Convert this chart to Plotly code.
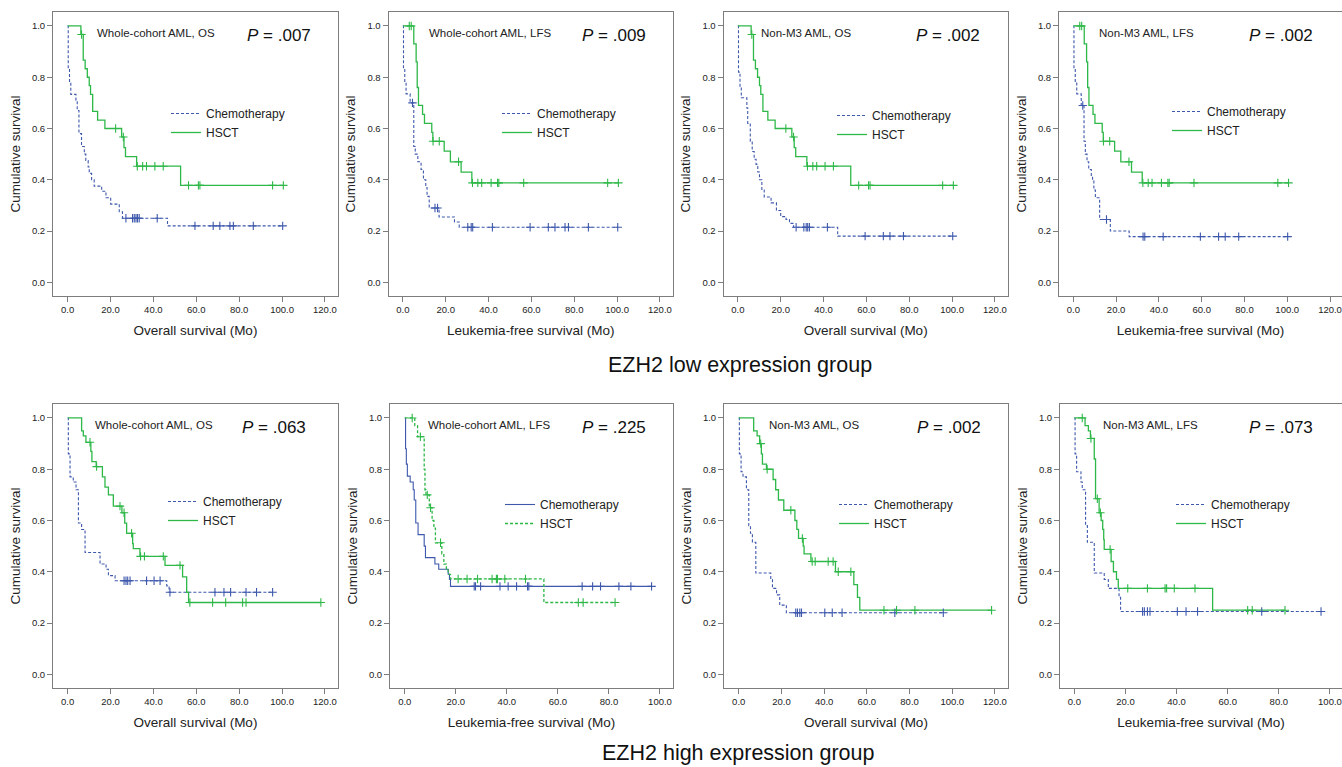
import plotly.graph_objects as go

W, H = 1342, 767
FONT = "Liberation Sans, Arial, sans-serif"
CHEMO_COLOR = "#3E58AC"
HSCT_COLOR = "#2EB848"
FRAME = "#7d7d7d"

# ---------------- text / categories ----------------
series_names = ["Chemotherapy", "HSCT"]
panel_names = ["Whole-cohort AML, OS", "Whole-cohort AML, LFS", "Non-M3 AML, OS", "Non-M3 AML, LFS",
               "Whole-cohort AML, OS", "Whole-cohort AML, LFS", "Non-M3 AML, OS", "Non-M3 AML, LFS"]
p_values = [".007", ".009", ".002", ".002", ".063", ".225", ".002", ".073"]
x_titles = ["Overall survival (Mo)", "Leukemia-free survival (Mo)"] * 4
x_tick_max = [120, 120, 120, 120, 120, 100, 120, 100]
y_ticks = [0.0, 0.2, 0.4, 0.6, 0.8, 1.0]
y_title = "Cumulative survival"
group_titles = ["EZH2 low expression group", "EZH2 high expression group"]

# ---------------- data ----------------
# Panel 1: EZH2 low, whole cohort, OS
chemo_time_p1 = [0, 0.3, 0.9, 1.5, 3.9, 4.5, 5.3, 6.5, 7.8, 8.5, 9.6, 10.1, 11.2, 12.4, 15.9, 17.9, 20.1, 24.1, 25.6, 46.6, 100.3]
chemo_surv_p1 = [1.0, 0.83, 0.78, 0.733, 0.71, 0.67, 0.58, 0.53, 0.50, 0.475, 0.45, 0.425, 0.40, 0.375, 0.355, 0.33, 0.305, 0.275, 0.25, 0.22, 0.22]
chemo_cens_p1 = [27.2, 30.3, 31.1, 31.9, 32.6, 33.4, 41.8, 59.4, 67.9, 71.0, 75.7, 77.3, 86.6, 100.3]
hsct_time_p1 = [0, 6.2, 7.3, 8.2, 9.2, 10.1, 10.7, 11.7, 14.0, 17.4, 25.2, 26.3, 27.0, 32.2, 52.7, 100.6]
hsct_surv_p1 = [1.0, 0.967, 0.867, 0.833, 0.80, 0.767, 0.733, 0.667, 0.633, 0.60, 0.567, 0.525, 0.49, 0.453, 0.378, 0.378]
hsct_cens_p1 = [6.5, 22.4, 26.0, 32.5, 35.0, 36.8, 40.7, 44.6, 56.4, 61.0, 61.7, 95.6, 100.6]

# Panel 2: EZH2 low, whole cohort, LFS
chemo_time_p2 = [0, 0.3, 0.9, 1.5, 3.4, 5.1, 5.8, 7.0, 8.5, 9.6, 10.7, 11.3, 12.3, 16.9, 24.1, 26.3, 100.3]
chemo_surv_p2 = [1.0, 0.83, 0.78, 0.735, 0.70, 0.53, 0.50, 0.47, 0.44, 0.40, 0.37, 0.335, 0.29, 0.255, 0.235, 0.215, 0.215]
chemo_cens_p2 = [4.5, 15.0, 16.2, 30.3, 31.9, 32.6, 41.8, 59.4, 67.9, 71.0, 75.7, 77.3, 86.6, 100.3]
hsct_time_p2 = [0, 5.1, 6.2, 6.7, 7.3, 9.2, 10.1, 13.5, 14.0, 19.3, 22.2, 27.2, 32.2, 100.6]
hsct_surv_p2 = [1.0, 0.93, 0.86, 0.76, 0.69, 0.655, 0.62, 0.585, 0.55, 0.512, 0.47, 0.43, 0.388, 0.388]
hsct_cens_p2 = [3.0, 3.9, 14.1, 17.0, 26.0, 32.5, 35.0, 36.8, 41.2, 44.2, 44.8, 56.4, 95.6, 100.6]

# Panel 3: EZH2 low, non-M3, OS
chemo_time_p3 = [0, 0.3, 1.0, 1.6, 4.2, 4.6, 5.8, 6.7, 7.6, 8.5, 9.3, 10.1, 11.2, 12.3, 15.5, 18.0, 20.0, 22.5, 24.1, 26.0, 46.6, 100.3]
chemo_surv_p3 = [1.0, 0.82, 0.76, 0.72, 0.68, 0.62, 0.55, 0.51, 0.48, 0.46, 0.43, 0.40, 0.36, 0.333, 0.31, 0.28, 0.256, 0.245, 0.23, 0.215, 0.18, 0.18]
chemo_cens_p3 = [27.2, 30.8, 31.9, 32.6, 33.4, 41.8, 59.4, 67.9, 71.0, 77.3, 100.3]
hsct_time_p3 = [0, 6.2, 7.3, 8.2, 9.2, 10.1, 10.7, 11.7, 14.0, 17.4, 25.2, 26.3, 27.0, 32.2, 52.7, 100.6]
hsct_surv_p3 = [1.0, 0.967, 0.867, 0.833, 0.80, 0.767, 0.733, 0.667, 0.633, 0.60, 0.567, 0.525, 0.49, 0.453, 0.378, 0.378]
hsct_cens_p3 = [6.5, 22.4, 26.0, 32.5, 35.0, 36.8, 40.7, 44.6, 56.4, 61.0, 61.7, 95.6, 100.6]

# Panel 4: EZH2 low, non-M3, LFS
chemo_time_p4 = [0, 0.3, 0.9, 1.6, 3.7, 5.0, 5.6, 6.4, 7.2, 8.4, 9.0, 9.6, 10.3, 12.3, 17.3, 26.1, 100.2]
chemo_surv_p4 = [1.0, 0.83, 0.78, 0.735, 0.69, 0.55, 0.50, 0.47, 0.44, 0.41, 0.40, 0.36, 0.33, 0.245, 0.20, 0.178, 0.178]
chemo_cens_p4 = [4.4, 15.5, 32.6, 33.4, 42.0, 59.4, 67.9, 71.0, 77.3, 100.2]
hsct_time_p4 = [0, 5.1, 6.2, 6.7, 7.3, 9.2, 10.1, 13.5, 14.0, 19.3, 22.2, 27.2, 32.2, 100.6]
hsct_surv_p4 = [1.0, 0.93, 0.86, 0.76, 0.69, 0.655, 0.62, 0.585, 0.55, 0.512, 0.47, 0.43, 0.388, 0.388]
hsct_cens_p4 = [3.0, 3.9, 14.1, 17.0, 26.0, 32.5, 35.0, 36.8, 41.2, 44.2, 44.8, 56.4, 95.6, 100.6]

# Panel 5: EZH2 high, whole cohort, OS
chemo_time_p5 = [0, 0.3, 1.1, 2.6, 3.9, 5.0, 6.5, 8.1, 15.1, 17.9, 19.0, 22.1, 46.2, 47.3, 95.6]
chemo_surv_p5 = [1.0, 0.86, 0.77, 0.75, 0.72, 0.59, 0.565, 0.475, 0.43, 0.41, 0.385, 0.365, 0.345, 0.32, 0.32]
chemo_cens_p5 = [26.3, 27.2, 28.0, 29.1, 36.8, 40.3, 43.1, 47.7, 68.7, 72.9, 76.0, 83.2, 88.1, 95.6]
hsct_time_p5 = [0, 6.5, 7.3, 8.5, 10.8, 11.3, 13.3, 16.2, 17.4, 19.0, 21.3, 25.3, 26.6, 27.5, 30.3, 30.6, 33.7, 45.4, 53.6, 55.5, 56.4, 118.1]
hsct_surv_p5 = [1.0, 0.95, 0.93, 0.905, 0.87, 0.83, 0.81, 0.77, 0.73, 0.70, 0.656, 0.63, 0.59, 0.55, 0.51, 0.49, 0.46, 0.425, 0.38, 0.32, 0.28, 0.28]
hsct_cens_p5 = [10.4, 13.5, 24.4, 26.3, 29.8, 34.0, 35.8, 44.6, 52.4, 57.0, 67.6, 73.7, 81.6, 83.2, 118.1]

# Panel 6: EZH2 high, whole cohort, LFS
chemo_time_p6 = [0, 0.3, 0.6, 1.0, 2.1, 3.3, 3.7, 4.3, 5.2, 7.6, 8.1, 11.8, 13.3, 17.0, 17.5, 17.9, 96.7]
chemo_surv_p6 = [1.0, 0.88, 0.82, 0.773, 0.75, 0.72, 0.68, 0.59, 0.545, 0.50, 0.455, 0.43, 0.41, 0.39, 0.37, 0.343, 0.343]
chemo_cens_p6 = [27.2, 27.7, 29.7, 37.3, 40.5, 43.8, 48.1, 48.6, 69.5, 73.6, 76.7, 83.9, 88.6, 96.7]
hsct_time_p6 = [0, 3.9, 5.0, 7.6, 7.9, 8.3, 9.6, 10.7, 11.4, 12.0, 14.5, 15.3, 16.3, 17.0, 17.9, 54.5, 82.4]
hsct_surv_p6 = [1.0, 0.97, 0.927, 0.80, 0.72, 0.70, 0.65, 0.60, 0.57, 0.513, 0.47, 0.43, 0.41, 0.39, 0.372, 0.28, 0.28]
hsct_cens_p6 = [2.9, 6.1, 8.8, 10.1, 14.0, 20.9, 24.4, 28.5, 34.2, 35.9, 36.3, 39.2, 47.3, 68.0, 69.9, 82.4]

# Panel 7: EZH2 high, non-M3, OS
chemo_time_p7 = [0, 0.3, 1.1, 2.0, 3.6, 4.7, 5.5, 6.4, 8.0, 15.0, 15.8, 17.7, 19.2, 22.3, 95.8]
chemo_surv_p7 = [1.0, 0.86, 0.79, 0.77, 0.72, 0.58, 0.55, 0.515, 0.395, 0.37, 0.335, 0.31, 0.27, 0.24, 0.24]
chemo_cens_p7 = [26.7, 27.5, 28.6, 29.4, 40.3, 43.8, 48.4, 73.1, 95.8]
hsct_time_p7 = [0, 7.0, 8.6, 9.8, 10.6, 11.1, 13.0, 16.1, 17.3, 18.6, 21.1, 26.3, 27.2, 28.0, 30.2, 30.6, 33.8, 45.3, 53.9, 55.6, 56.7, 118.4]
hsct_surv_p7 = [1.0, 0.95, 0.93, 0.90, 0.86, 0.82, 0.80, 0.76, 0.72, 0.68, 0.64, 0.60, 0.565, 0.53, 0.50, 0.47, 0.44, 0.40, 0.35, 0.30, 0.25, 0.25]
hsct_cens_p7 = [10.3, 13.3, 24.4, 29.8, 34.4, 35.8, 41.9, 44.2, 46.6, 52.5, 68.0, 73.9, 82.5, 118.4]

# Panel 8: EZH2 high, non-M3, LFS
chemo_time_p8 = [0, 0.3, 0.9, 2.6, 3.1, 4.4, 5.1, 7.8, 11.7, 13.3, 17.5, 18.1, 96.5]
chemo_surv_p8 = [1.0, 0.86, 0.79, 0.75, 0.72, 0.58, 0.515, 0.395, 0.37, 0.335, 0.30, 0.245, 0.245]
chemo_cens_p8 = [26.7, 27.4, 28.6, 29.6, 40.3, 43.7, 48.2, 73.3, 96.5]
hsct_time_p8 = [0, 4.2, 5.5, 6.3, 7.8, 8.3, 9.7, 10.5, 11.1, 11.5, 11.7, 14.4, 15.3, 16.5, 17.2, 54.1, 82.4]
hsct_surv_p8 = [1.0, 0.97, 0.95, 0.92, 0.84, 0.685, 0.63, 0.60, 0.565, 0.525, 0.487, 0.44, 0.40, 0.37, 0.335, 0.25, 0.25]
hsct_cens_p8 = [3.1, 6.5, 9.0, 10.2, 14.0, 20.9, 28.6, 35.5, 36.1, 39.1, 47.2, 67.8, 69.6, 82.4]

panels = [
    (chemo_time_p1, chemo_surv_p1, chemo_cens_p1, hsct_time_p1, hsct_surv_p1, hsct_cens_p1),
    (chemo_time_p2, chemo_surv_p2, chemo_cens_p2, hsct_time_p2, hsct_surv_p2, hsct_cens_p2),
    (chemo_time_p3, chemo_surv_p3, chemo_cens_p3, hsct_time_p3, hsct_surv_p3, hsct_cens_p3),
    (chemo_time_p4, chemo_surv_p4, chemo_cens_p4, hsct_time_p4, hsct_surv_p4, hsct_cens_p4),
    (chemo_time_p5, chemo_surv_p5, chemo_cens_p5, hsct_time_p5, hsct_surv_p5, hsct_cens_p5),
    (chemo_time_p6, chemo_surv_p6, chemo_cens_p6, hsct_time_p6, hsct_surv_p6, hsct_cens_p6),
    (chemo_time_p7, chemo_surv_p7, chemo_cens_p7, hsct_time_p7, hsct_surv_p7, hsct_cens_p7),
    (chemo_time_p8, chemo_surv_p8, chemo_cens_p8, hsct_time_p8, hsct_surv_p8, hsct_cens_p8),
]

# ---------------- layout geometry (pixels) ----------------
frame_left = [53, 388.5, 723.5, 1059, 53, 390, 724, 1060]
frame_right = [338, 673, 1008, 1342, 338, 673, 1008, 1342]
row_top = [12, 404]
row_bottom = [296, 688]
x_ranges = [[-6.8, 126.1], [-6.7, 126.1], [-6.7, 126.1], [-6.7, 125.6],
            [-6.85, 126.1], [-5.8, 105.1], [-6.9, 126.1], [-5.6, 104.7]]
y_range = [-0.0535, 1.0545]
label_x = [0.147, 0.135, 0.125, 0.133, 0.141, 0.128, 0.150, 0.145]
pval_x = [0.912, 0.912, 0.907, 0.906, 0.895, 0.911, 0.912, 0.906]
legend_px = [(166, 99), (497, 99), (832, 101), (1167, 97),
             (163, 487), (500, 490), (834, 490), (1171, 490)]
chemo_dash = ["3px,2px"] * 5 + ["solid"] + ["3px,2px"] * 2
hsct_dash = ["solid"] * 5 + ["3px,2px"] + ["solid"] * 2


def step_value(times, survs, t):
    v = survs[0]
    for tt, ss in zip(times, survs):
        if tt <= t:
            v = ss
    return v


fig = go.Figure()
layout = dict(
    width=W, height=H, margin=dict(l=0, r=0, t=0, b=0),
    paper_bgcolor="white", plot_bgcolor="white",
    font=dict(family=FONT, color="#222"),
    annotations=[], showlegend=True,
)

for i, (ct, cs, cc, ht, hs, hc) in enumerate(panels):
    n = i + 1
    row = 0 if i < 4 else 1
    xa = "x" if n == 1 else f"x{n}"
    ya = "y" if n == 1 else f"y{n}"
    lg = "legend" if n == 1 else f"legend{n}"

    fig.add_trace(go.Scatter(x=ct, y=cs, mode="lines", line=dict(shape="hv", color=CHEMO_COLOR, width=1.1, dash=chemo_dash[i]),
                             name=series_names[0], legend=lg, xaxis=xa, yaxis=ya, hoverinfo="skip"))
    fig.add_trace(go.Scatter(x=ht, y=hs, mode="lines", line=dict(shape="hv", color=HSCT_COLOR, width=1.3, dash=hsct_dash[i]),
                             name=series_names[1], legend=lg, xaxis=xa, yaxis=ya, hoverinfo="skip"))
    fig.add_trace(go.Scatter(x=cc, y=[step_value(ct, cs, t) for t in cc], mode="markers",
                             marker=dict(symbol="cross-thin", size=6, line=dict(width=1.1, color=CHEMO_COLOR)),
                             showlegend=False, xaxis=xa, yaxis=ya, hoverinfo="skip"))
    fig.add_trace(go.Scatter(x=hc, y=[step_value(ht, hs, t) for t in hc], mode="markers",
                             marker=dict(symbol="cross-thin", size=6, line=dict(width=1.1, color=HSCT_COLOR)),
                             showlegend=False, xaxis=xa, yaxis=ya, hoverinfo="skip"))

    xdom = [frame_left[i] / W, min(frame_right[i], W) / W]
    ydom = [1 - row_bottom[row] / H, 1 - row_top[row] / H]
    axis_common = dict(showline=True, mirror=True, linecolor=FRAME, linewidth=1, ticks="outside", ticklen=5,
                       tickcolor=FRAME, tickwidth=1, showgrid=False, zeroline=False,
                       tickfont=dict(size=9.5, color="#222", family=FONT), automargin=False)
    xname = "xaxis" if n == 1 else f"xaxis{n}"
    yname = "yaxis" if n == 1 else f"yaxis{n}"
    layout[xname] = dict(axis_common, domain=xdom, range=x_ranges[i], anchor=ya,
                         tickvals=list(range(0, x_tick_max[i] + 1, 20)), tickformat=".1f",
                         title=dict(text=x_titles[i], font=dict(size=13.5, color="#222", family=FONT), standoff=11))
    layout[yname] = dict(axis_common, domain=ydom, range=y_range, anchor=xa,
                         tickvals=y_ticks, tickformat=".1f",
                         title=dict(text=y_title, font=dict(size=13.5, color="#222", family=FONT), standoff=8))
    lx, ly = legend_px[i]
    layout[lg] = dict(x=lx / W, y=1 - ly / H, xanchor="left", yanchor="top", xref="paper", yref="paper",
                      bgcolor="rgba(0,0,0,0)", font=dict(size=12, color="#222", family=FONT),
                      itemwidth=30, tracegroupgap=0, traceorder="normal")

    layout["annotations"].append(dict(text=panel_names[i], xref=f"{xa} domain", yref=f"{ya} domain",
                                      x=label_x[i], y=0.925, xanchor="left", yanchor="middle", showarrow=False,
                                      font=dict(size=11.5, color="#222", family=FONT)))
    layout["annotations"].append(dict(text=f"<i>P</i> = {p_values[i]}", xref=f"{xa} domain", yref=f"{ya} domain",
                                      x=pval_x[i], y=0.918, xanchor="right", yanchor="middle", showarrow=False,
                                      font=dict(size=17, color="#111", family=FONT)))

layout["annotations"].append(dict(text=group_titles[0], xref="paper", yref="paper", x=740 / W, y=1 - 365 / H,
                                  xanchor="center", yanchor="middle", showarrow=False,
                                  font=dict(size=21.5, color="#111", family=FONT)))
layout["annotations"].append(dict(text=group_titles[1], xref="paper", yref="paper", x=738 / W, y=1 - 753 / H,
                                  xanchor="center", yanchor="middle", showarrow=False,
                                  font=dict(size=21.5, color="#111", family=FONT)))

fig.update_layout(**layout)
fig.write_html("out.html")
